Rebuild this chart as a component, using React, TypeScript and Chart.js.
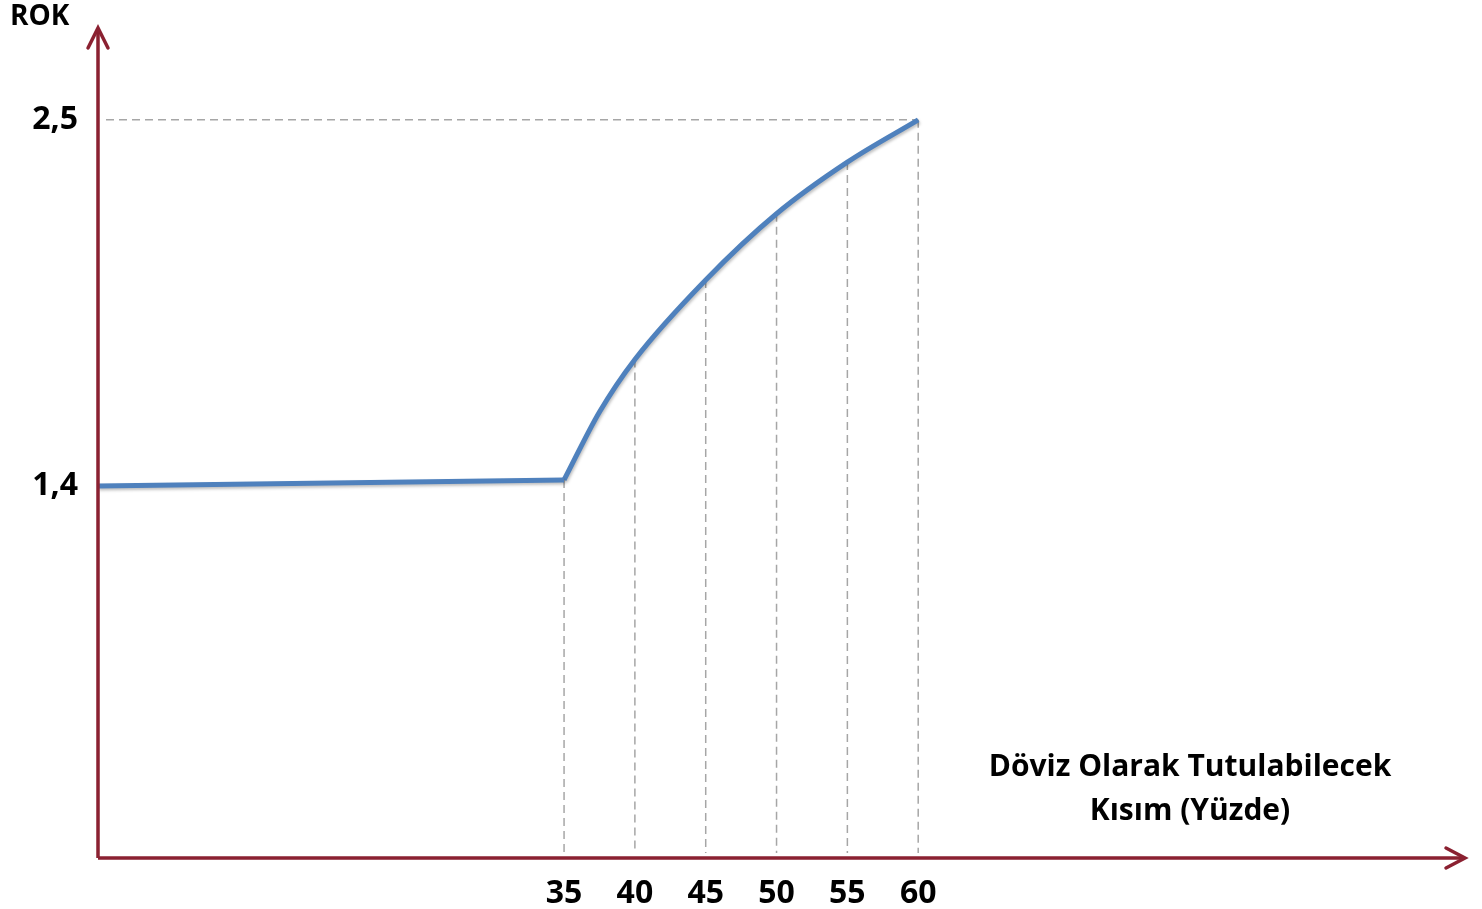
import React, { useEffect, useRef } from "react";
import { Chart, registerables } from "chart.js";

Chart.register(...registerables);

// ---- data ----
const FLAT_X = [2.1, 35];
const FLAT_Y = [1.4, 1.418];
const CURVE_X = [35, 37.5, 40, 45, 50, 55, 60];
const CURVE_Y = [1.418, 1.622, 1.78, 2.019, 2.218, 2.373, 2.5];
const X_TICKS = [35, 40, 45, 50, 55, 60];
const Y_TICKS = [1.4, 2.5];
const Y_TITLE = "ROK";
const X_TITLE = ["Döviz Olarak Tutulabilecek", "Kısım (Yüzde)"];

const X_MIN = 2.1;
const X_MAX = 98.6;
const Y_MIN = 0.282;
const Y_MAX = 2.77;

const AXIS_COLOR = "#8b2131";
const LINE_COLOR = "#4f81bd";
const GUIDE_COLOR = "#a6a6a6";
const FONT = "'Open Sans', Lato, sans-serif";

const guidesPlugin = {
  id: "guides",
  beforeDatasetsDraw(chart: any) {
    const { ctx, scales, chartArea } = chart;
    const xs = scales.x;
    const ys = scales.y;
    ctx.save();
    ctx.strokeStyle = GUIDE_COLOR;
    ctx.lineWidth = 1.5;
    ctx.setLineDash([8, 5]);
    X_TICKS.forEach((xv) => {
      const idx = CURVE_X.indexOf(xv);
      if (idx < 0) return;
      const px = xs.getPixelForValue(xv);
      const py = ys.getPixelForValue(CURVE_Y[idx]);
      ctx.beginPath();
      ctx.moveTo(px, py);
      ctx.lineTo(px, chartArea.bottom - 5);
      ctx.stroke();
    });
    const last = CURVE_X.length - 1;
    const lx = xs.getPixelForValue(CURVE_X[last]);
    const ly = ys.getPixelForValue(CURVE_Y[last]);
    ctx.beginPath();
    ctx.moveTo(chartArea.left + 8, ly);
    ctx.lineTo(lx, ly);
    ctx.stroke();
    ctx.restore();
  },
  beforeDatasetDraw(chart: any) {
    const { ctx } = chart;
    ctx.save();
    ctx.shadowColor = "rgba(0,0,0,0.25)";
    ctx.shadowBlur = 3;
    ctx.shadowOffsetX = 1;
    ctx.shadowOffsetY = 2;
  },
  afterDatasetDraw(chart: any) {
    chart.ctx.restore();
  },
  afterDatasetsDraw(chart: any) {
    const { ctx, chartArea } = chart;
    const { left, right, top, bottom } = chartArea;
    ctx.save();
    ctx.strokeStyle = AXIS_COLOR;
    ctx.lineWidth = 3.5;
    ctx.lineCap = "butt";
    ctx.beginPath();
    ctx.moveTo(left, bottom);
    ctx.lineTo(left, top);
    ctx.moveTo(left, bottom);
    ctx.lineTo(right, bottom);
    ctx.stroke();
    ctx.lineCap = "round";
    ctx.lineJoin = "miter";
    ctx.beginPath();
    ctx.moveTo(left - 10, top + 18);
    ctx.lineTo(left, top - 2);
    ctx.lineTo(left + 10, top + 18);
    ctx.stroke();
    ctx.beginPath();
    ctx.moveTo(right - 19, bottom - 10);
    ctx.lineTo(right, bottom);
    ctx.lineTo(right - 19, bottom + 10);
    ctx.stroke();
    ctx.restore();
  },
  afterDraw(chart: any) {
    const { ctx } = chart;
    ctx.save();
    ctx.fillStyle = "#000";
    ctx.font = `bold 28px ${FONT}`;
    ctx.textBaseline = "middle";
    ctx.textAlign = "left";
    ctx.fillText(Y_TITLE, 10, 17);
    ctx.textAlign = "center";
    ctx.font = `bold 30px ${FONT}`;
    ctx.fillText(X_TITLE[0], 1190, 767);
    ctx.fillText(X_TITLE[1], 1190, 811);
    ctx.restore();
  },
};

export default function App() {
  const ref = useRef<HTMLCanvasElement | null>(null);
  useEffect(() => {
    if (!ref.current) return;
    const chart = new Chart(ref.current, {
      type: "line",
      data: {
        datasets: [
          {
            data: FLAT_X.map((x, i) => ({ x, y: FLAT_Y[i] })),
            borderColor: LINE_COLOR,
            borderWidth: 5,
            pointRadius: 0,
            tension: 0,
          },
          {
            data: CURVE_X.map((x, i) => ({ x, y: CURVE_Y[i] })),
            borderColor: LINE_COLOR,
            borderWidth: 5,
            pointRadius: 0,
            cubicInterpolationMode: "monotone",
          },
        ],
      },
      options: {
        animation: false,
        responsive: false,
        layout: { padding: { top: 30, right: 17, left: 0, bottom: 0 } },
        plugins: { legend: { display: false }, tooltip: { enabled: false } },
        scales: {
          x: {
            type: "linear",
            min: X_MIN,
            max: X_MAX,
            grid: { display: false, drawTicks: false },
            border: { display: false },
            afterBuildTicks: (scale: any) => {
              scale.ticks = X_TICKS.map((v) => ({ value: v }));
            },
            afterFit: (scale: any) => {
              scale.height = 51;
              scale.paddingLeft = 0;
              scale.paddingRight = 0;
            },
            ticks: {
              autoSkip: false,
              maxRotation: 0,
              padding: 17,
              color: "#000",
              font: { family: FONT, size: 32, weight: "bold" },
              callback: (v: any) => String(v),
            },
          },
          y: {
            type: "linear",
            min: Y_MIN,
            max: Y_MAX,
            grid: { display: false, drawTicks: false },
            border: { display: false },
            afterBuildTicks: (scale: any) => {
              scale.ticks = Y_TICKS.map((v) => ({ value: v }));
            },
            afterFit: (scale: any) => {
              scale.width = 98;
              scale.paddingTop = 0;
              scale.paddingBottom = 0;
            },
            ticks: {
              autoSkip: false,
              padding: 20,
              color: "#000",
              font: { family: FONT, size: 32, weight: "bold" },
              callback: (v: any) => String(v).replace(".", ","),
            },
          },
        },
      },
      plugins: [guidesPlugin],
    } as any);
    return () => chart.destroy();
  }, []);
  return (
    <div style={{ position: "fixed", left: 0, top: 0, width: 1482, height: 909, background: "#fff" }}>
      <canvas ref={ref} width={1482} height={909} style={{ display: "block" }} />
    </div>
  );
}
